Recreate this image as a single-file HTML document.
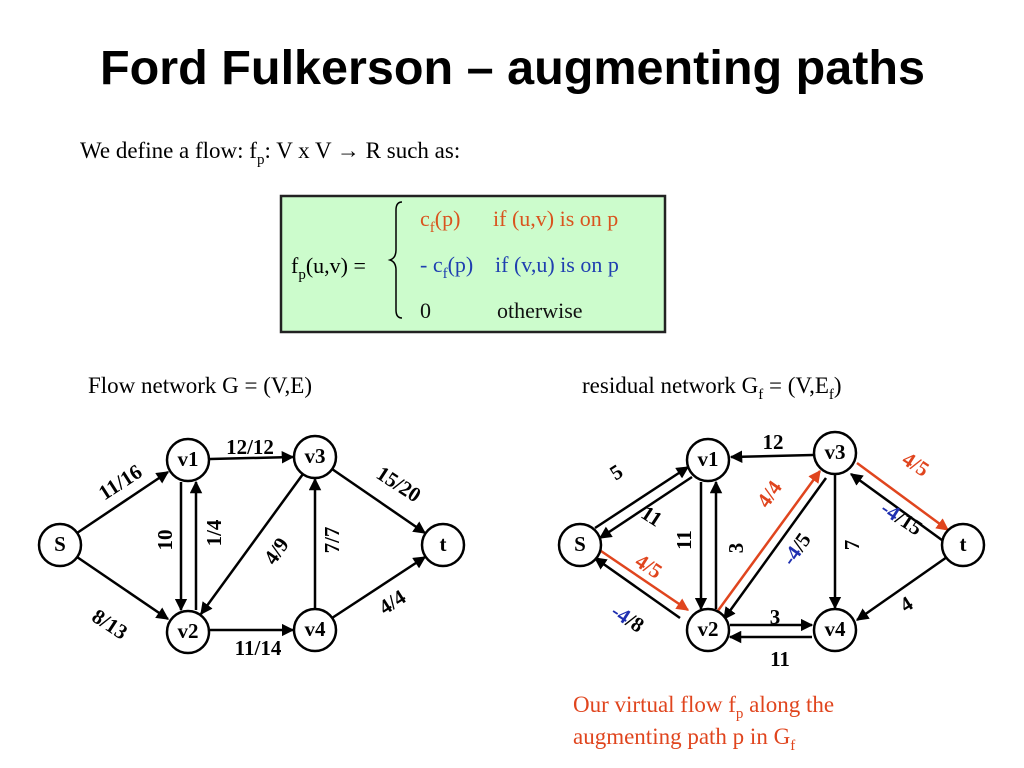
<!DOCTYPE html>
<html><head><meta charset="utf-8"><style>
html,body{margin:0;padding:0;background:#fff;}
svg{display:block;}
.t{font-family:"Liberation Serif",serif;}
.b{font-family:"Liberation Serif",serif;font-weight:bold;font-size:21px;}
</style></head><body>
<svg width="1024" height="768" viewBox="0 0 1024 768" xmlns="http://www.w3.org/2000/svg">
<defs>
<marker id="a" viewBox="0 0 10 10" refX="9" refY="5" markerWidth="5" markerHeight="5" orient="auto"><path d="M0,0 L10,5 L0,10 z" fill="#000"/></marker>
<marker id="r" viewBox="0 0 10 10" refX="9" refY="5" markerWidth="5" markerHeight="5" orient="auto"><path d="M0,0 L10,5 L0,10 z" fill="#e0451e"/></marker>
</defs>
<text x="100" y="84" textLength="825" lengthAdjust="spacingAndGlyphs" font-family="Liberation Sans,sans-serif" font-weight="bold" font-size="48">Ford Fulkerson – augmenting paths</text>
<text class="t" x="80" y="158" font-size="23">We define a flow: f<tspan font-size="15" dy="6">p</tspan><tspan dy="-6">: V x V → R such as:</tspan></text>
<rect x="281" y="196" width="384" height="136" fill="#ccfccc" stroke="#222" stroke-width="2.5"/>
<text class="t" x="291" y="273" font-size="22">f<tspan font-size="15" dy="6">p</tspan><tspan dy="-6">(u,v) =</tspan></text>
<path d="M402,202 q-6,0 -6,8 v40 q0,8 -6,10 q6,2 6,10 v40 q0,8 6,8" fill="none" stroke="#000" stroke-width="1.5"/>
<text class="t" x="420" y="226" font-size="22" fill="#d9541e">c<tspan font-size="15" dy="6">f</tspan><tspan dy="-6">(p)</tspan></text>
<text class="t" x="493" y="226" font-size="22" fill="#d9541e">if (u,v) is on p</text>
<text class="t" x="420" y="272" font-size="22" fill="#1f3fb0">- c<tspan font-size="15" dy="6">f</tspan><tspan dy="-6">(p)</tspan></text>
<text class="t" x="495" y="272" font-size="22" fill="#1f3fb0">if (v,u) is on p</text>
<text class="t" x="420" y="318" font-size="22" fill="#111">0</text>
<text class="t" x="497" y="318" font-size="22" fill="#111">otherwise</text>
<text class="t" x="88" y="393" font-size="23">Flow network G = (V,E)</text>
<text class="t" x="582" y="393" font-size="23">residual network G<tspan font-size="15" dy="6">f</tspan><tspan dy="-6"> = (V,E</tspan><tspan font-size="15" dy="6">f</tspan><tspan dy="-6">)</tspan></text>

<g stroke="#000" stroke-width="2.5" fill="none" marker-end="url(#a)">
<line x1="77" y1="533" x2="168" y2="472"/>
<line x1="77" y1="557" x2="168" y2="619"/>
<line x1="210" y1="459" x2="293" y2="457"/>
<line x1="181" y1="482" x2="181" y2="610"/>
<line x1="196" y1="610" x2="196" y2="482"/>
<line x1="303" y1="474" x2="201" y2="614"/>
<line x1="332" y1="469" x2="425" y2="533"/>
<line x1="315" y1="609" x2="315" y2="479"/>
<line x1="210" y1="630" x2="293" y2="630"/>
<line x1="332" y1="618" x2="425" y2="557"/>
</g>
<g stroke="#000" stroke-width="2.5" fill="#fff">
<circle cx="60" cy="545" r="21"/><circle cx="188" cy="460" r="21"/><circle cx="315" cy="457" r="21"/>
<circle cx="443" cy="545" r="21"/><circle cx="188" cy="632" r="21"/><circle cx="315" cy="630" r="21"/>
</g>
<g text-anchor="middle">
<text x="60" y="551" class="b" font-size="18">S</text><text x="188" y="466" class="b" font-size="18">v1</text><text x="315" y="463" class="b" font-size="18">v3</text>
<text x="443" y="551" class="b" font-size="18">t</text><text x="188" y="638" class="b" font-size="18">v2</text><text x="315" y="636" class="b" font-size="18">v4</text>
</g>
<g class="b" text-anchor="middle">
<text transform="translate(124,488) rotate(-33)">11/16</text>
<text transform="translate(106,630) rotate(33)">8/13</text>
<text x="250" y="454">12/12</text>
<text transform="translate(172,540) rotate(-90)">10</text>
<text transform="translate(221,533) rotate(-90)">1/4</text>
<text transform="translate(282,555) rotate(-55)">4/9</text>
<text transform="translate(339,540) rotate(-90)">7/7</text>
<text transform="translate(395,490) rotate(33)">15/20</text>
<text transform="translate(396,608) rotate(-33)">4/4</text>
<text x="258" y="655">11/14</text>
</g>

<g stroke="#000" stroke-width="2.5" fill="none" marker-end="url(#a)">
<line x1="595" y1="528" x2="688" y2="467"/>
<line x1="692" y1="477" x2="600" y2="538"/>
<line x1="813" y1="455" x2="731" y2="457"/>
<line x1="701" y1="482" x2="701" y2="609"/>
<line x1="716" y1="609" x2="716" y2="482"/>
<line x1="826" y1="478" x2="724" y2="619"/>
<line x1="946" y1="543" x2="851" y2="474"/>
<line x1="835" y1="475" x2="835" y2="608"/>
<line x1="947" y1="557" x2="857" y2="620"/>
<line x1="730" y1="625" x2="812" y2="625"/>
<line x1="812" y1="637" x2="730" y2="637"/>
<line x1="680" y1="618" x2="595" y2="558"/>
</g>
<g stroke="#e0451e" stroke-width="2.5" fill="none" marker-end="url(#r)">
<line x1="717" y1="612" x2="820" y2="471"/>
<line x1="857" y1="463" x2="948" y2="530"/>
<line x1="598" y1="549" x2="688" y2="610"/>
</g>
<g stroke="#000" stroke-width="2.5" fill="#fff">
<circle cx="580" cy="545" r="21"/><circle cx="708" cy="460" r="21"/><circle cx="835" cy="453" r="21"/>
<circle cx="963" cy="545" r="21"/><circle cx="708" cy="630" r="21"/><circle cx="835" cy="630" r="21"/>
</g>
<g text-anchor="middle">
<text x="580" y="551" class="b" font-size="18">S</text><text x="708" y="466" class="b" font-size="18">v1</text><text x="835" y="459" class="b" font-size="18">v3</text>
<text x="963" y="551" class="b" font-size="18">t</text><text x="708" y="636" class="b" font-size="18">v2</text><text x="835" y="636" class="b" font-size="18">v4</text>
</g>
<g class="b" text-anchor="middle">
<text transform="translate(620,478) rotate(-33)">5</text>
<text transform="translate(648,522) rotate(33)">11</text>
<text x="773" y="449">12</text>
<text transform="translate(691,540) rotate(-90)">11</text>
<text transform="translate(743,548) rotate(-90)">3</text>
<text transform="translate(775,498) rotate(-55)" fill="#e0451e">4/4</text>
<text transform="translate(802,553) rotate(-55)"><tspan fill="#1f2fb0">-4</tspan>/5</text>
<text transform="translate(912,470) rotate(33)" fill="#e0451e">4/5</text>
<text transform="translate(898,524) rotate(33)"><tspan fill="#1f2fb0">-4</tspan>/15</text>
<text transform="translate(859,545) rotate(-90)">7</text>
<text transform="translate(910,610) rotate(-33)">4</text>
<text x="775" y="624">3</text>
<text x="780" y="666">11</text>
<text transform="translate(645,572) rotate(33)" fill="#e0451e">4/5</text>
<text transform="translate(624,624) rotate(33)"><tspan fill="#1f2fb0">-4</tspan>/8</text>
</g>
<text class="t" x="573" y="712" font-size="23" fill="#e0451e">Our virtual flow f<tspan font-size="15" dy="6">p</tspan><tspan dy="-6"> along the</tspan></text>
<text class="t" x="573" y="744" font-size="23" fill="#e0451e">augmenting path p in G<tspan font-size="15" dy="6">f</tspan></text>
</svg>
</body></html>
